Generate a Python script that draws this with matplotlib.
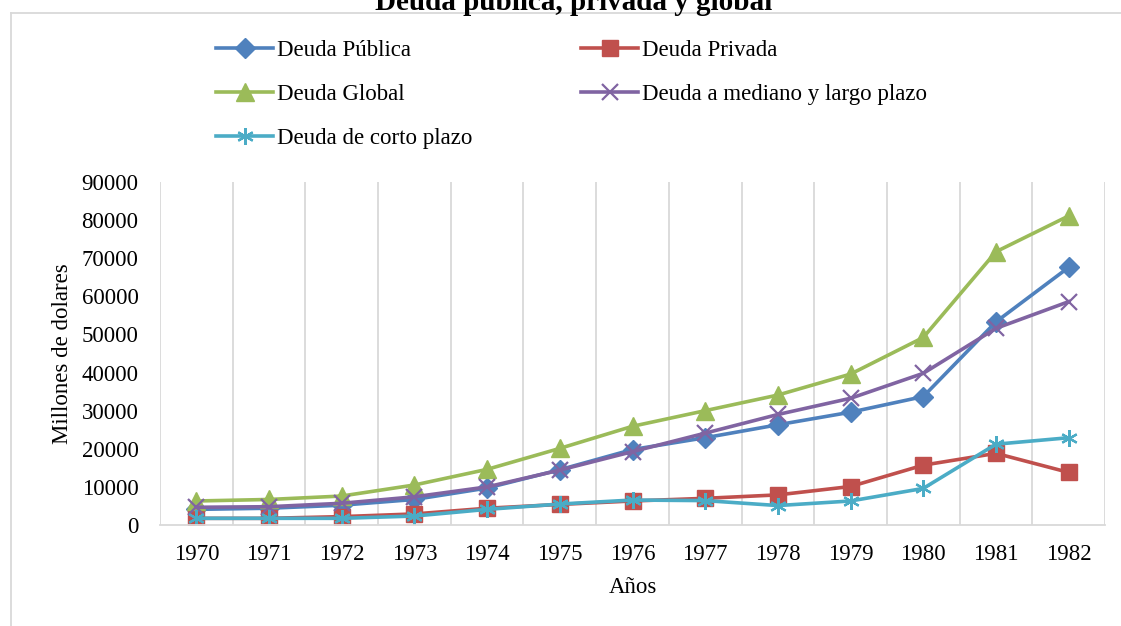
import matplotlib
matplotlib.use("Agg")
import matplotlib.pyplot as plt
from matplotlib.lines import Line2D

plt.rcParams['font.family'] = ['Liberation Serif', 'DejaVu Serif']

# data (millones de dolares)
years = ['1970', '1971', '1972', '1973', '1974', '1975', '1976',
         '1977', '1978', '1979', '1980', '1981', '1982']
publica = [4100, 4400, 5200, 6700, 9700, 14500, 19800,
           22900, 26300, 29600, 33700, 53300, 67600]
privada = [1750, 1750, 2200, 2900, 4400, 5400, 6300,
           7000, 7900, 10100, 15700, 18800, 13800]
glob = [6300, 6700, 7600, 10500, 14600, 20100, 25900,
        30000, 34100, 39600, 49200, 71700, 81100]
mediano = [4650, 4800, 5700, 7400, 10000, 14400, 19250,
           24100, 29000, 33250, 39800, 51600, 58600]
corto = [1750, 1750, 1750, 2350, 4100, 5500, 6550,
         6400, 5100, 6300, 9600, 21200, 22900]

W, H = 1121, 626
fig = plt.figure(figsize=(W / 100, H / 100), dpi=100)
ax = fig.add_axes([160 / W, 1 - 525 / H, (1105 - 160) / W, (525 - 182) / H])

x = list(range(len(years)))
fs = 16.5
grey = '#D9D9D9'

l1, = ax.plot(x, publica, color='#4F81BD', lw=2.6, marker='D', ms=10,
              label='Deuda Pública')
l2, = ax.plot(x, privada, color='#C0504D', lw=2.6, marker='s', ms=11.5,
              label='Deuda Privada')
l3, = ax.plot(x, glob, color='#9BBB59', lw=2.6, marker='^', ms=12.5,
              label='Deuda Global')
l4, = ax.plot(x, mediano, color='#8064A2', lw=2.6, marker='x', ms=11,
              mew=1.6, label='Deuda a mediano y largo plazo')
l5, = ax.plot(x, corto, color='#4BACC6', lw=2.6, marker=(6, 2, 0), ms=12,
              mew=1.6, label='Deuda de corto plazo')

ax.set_xlim(-0.5, len(years) - 0.5)
ax.set_ylim(0, 90000)
ax.set_yticks(range(0, 90001, 10000))
ax.set_xticks(x)
ax.set_xticklabels(years)
ax.set_xticks([i - 0.5 for i in range(len(years) + 1)], minor=True)
ax.grid(True, which='minor', axis='x', color=grey, lw=1.3)
ax.tick_params(axis='both', which='both', length=0, labelsize=fs)
ax.tick_params(axis='y', pad=15.5)
ax.tick_params(axis='x', pad=14)
for s in ['top', 'left', 'right']:
    ax.spines[s].set_visible(False)
ax.spines['bottom'].set_color(grey)
ax.spines['bottom'].set_linewidth(1.3)

ax.set_xlabel('Años', fontsize=fs, labelpad=8)
ax.set_ylabel('Millones de dolares', fontsize=fs, labelpad=6)

# legend, filled row by row like the original
fig.legend([l1, l3, l5, l2, l4],
           [l.get_label() for l in [l1, l3, l5, l2, l4]],
           ncol=2, loc='upper left', bbox_to_anchor=(216 / W, 1 - 40 / H),
           frameon=False, fontsize=fs, numpoints=1, handlelength=2.5,
           handletextpad=0.15, columnspacing=4.75, labelspacing=1.0,
           borderpad=0, borderaxespad=0)

# chart area border (cut at the right and bottom)
fig.add_artist(Line2D([10.5 / W, 1], [1 - 13 / H, 1 - 13 / H], color=grey, lw=1.3))
fig.add_artist(Line2D([10.5 / W, 10.5 / W], [0, 1 - 13 / H], color=grey, lw=1.3))

fig.text(574 / W, 1 - 10 / H, 'Deuda pública, privada y global',
         ha='center', va='baseline', fontsize=21, fontweight='bold')

fig.savefig('out.png', dpi=100)
